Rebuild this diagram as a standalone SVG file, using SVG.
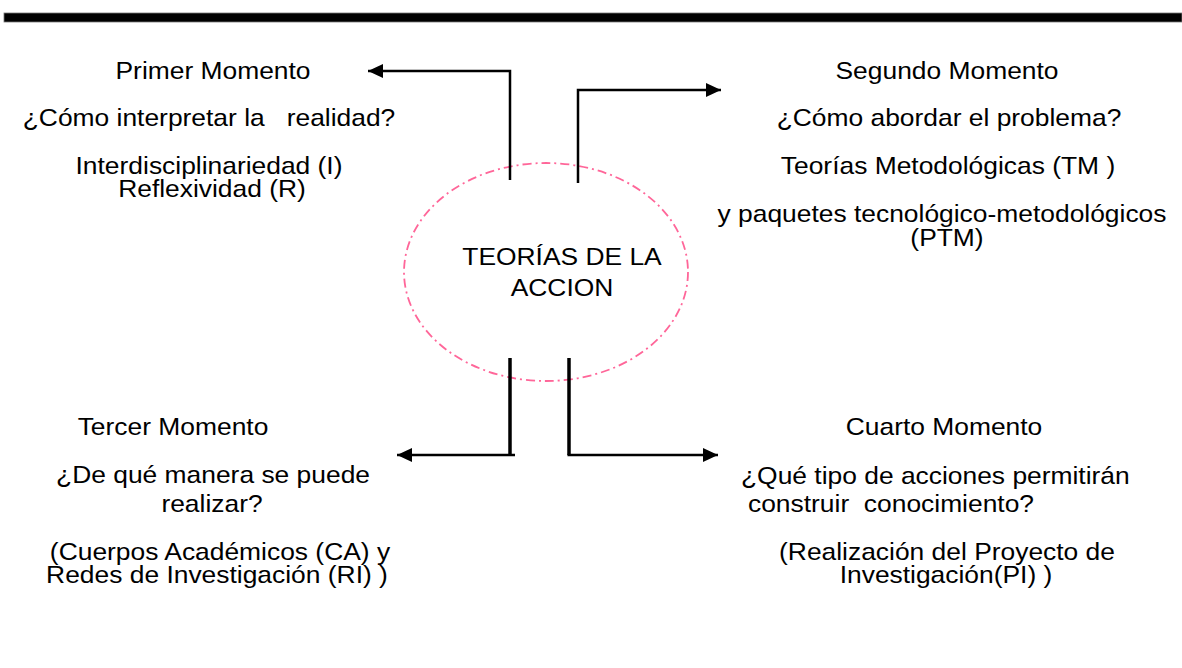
<svg xmlns="http://www.w3.org/2000/svg" width="1182" height="668" viewBox="0 0 1182 668">
<style>
text{font-family:"Liberation Sans",Arial,sans-serif;font-size:24px;fill:#000;}
.c{text-anchor:middle;}
.conn{fill:none;stroke:#000;stroke-linejoin:miter;stroke-linecap:butt;}
</style>
<defs>
<marker id="ah" markerUnits="userSpaceOnUse" markerWidth="16" markerHeight="16" refX="15" refY="7" orient="auto">
<path d="M0,0 L15,7 L0,14 Z" fill="#000"/>
</marker>
</defs>
<rect width="1182" height="668" fill="#fff"/>
<rect x="4" y="13" width="1178" height="9" fill="#000" stroke="#777" stroke-width="0.8"/>

<g id="center">
<ellipse cx="546" cy="272" rx="142" ry="109" fill="none" stroke="#FF6699" stroke-width="1.8" stroke-dasharray="9 4 2 4"/>
<text class="c" transform="translate(562,265) scale(1.1,1)">TEORÍAS DE LA</text>
<text class="c" transform="translate(562,296) scale(1.1,1)">ACCION</text>
</g>

<g id="connectors">
<path class="conn" stroke-width="2.5" d="M510,180 V71 H368" marker-end="url(#ah)"/>
<path class="conn" stroke-width="2.5" d="M578,183 V90 H721" marker-end="url(#ah)"/>
<path class="conn" stroke-width="3.5" d="M510,358 V455"/>
<path class="conn" stroke-width="2.5" d="M515,455 H397" marker-end="url(#ah)"/>
<path class="conn" stroke-width="3.5" d="M569,358 V455"/>
<path class="conn" stroke-width="2.5" d="M567.5,455 H718" marker-end="url(#ah)"/>
</g>

<g id="primer">
<text class="c" transform="translate(213,79) scale(1.1,1)">Primer Momento</text>
<text class="c" xml:space="preserve" transform="translate(209,126) scale(1.1,1)">¿Cómo interpretar la   realidad?</text>
<text class="c" transform="translate(209,174) scale(1.1,1)">Interdisciplinariedad (I)</text>
<text class="c" transform="translate(212,197) scale(1.1,1)">Reflexividad (R)</text>
</g>

<g id="segundo">
<text class="c" transform="translate(947,79) scale(1.1,1)">Segundo Momento</text>
<text class="c" transform="translate(949,126) scale(1.1,1)">¿Cómo abordar el problema?</text>
<text class="c" transform="translate(948,174) scale(1.1,1)">Teorías Metodológicas (TM )</text>
<text class="c" transform="translate(942,222) scale(1.1,1)">y paquetes tecnológico-metodológicos</text>
<text class="c" transform="translate(947,246) scale(1.1,1)">(PTM)</text>
</g>

<g id="tercer">
<text class="c" transform="translate(173,435) scale(1.1,1)">Tercer Momento</text>
<text class="c" transform="translate(213,483) scale(1.1,1)">¿De qué manera se puede</text>
<text class="c" transform="translate(212,512) scale(1.1,1)">realizar?</text>
<text class="c" transform="translate(220,560) scale(1.1,1)">(Cuerpos Académicos (CA) y</text>
<text class="c" transform="translate(217,583) scale(1.1,1)">Redes de Investigación (RI) )</text>
</g>

<g id="cuarto">
<text class="c" transform="translate(944,435) scale(1.1,1)">Cuarto Momento</text>
<text transform="translate(741,484) scale(1.1,1)">¿Qué tipo de acciones permitirán</text>
<text xml:space="preserve" transform="translate(748,512) scale(1.1,1)">construir  conocimiento?</text>
<text class="c" transform="translate(947,560) scale(1.1,1)">(Realización del Proyecto de</text>
<text class="c" transform="translate(946,583) scale(1.1,1)">Investigación(PI) )</text>
</g>
</svg>
